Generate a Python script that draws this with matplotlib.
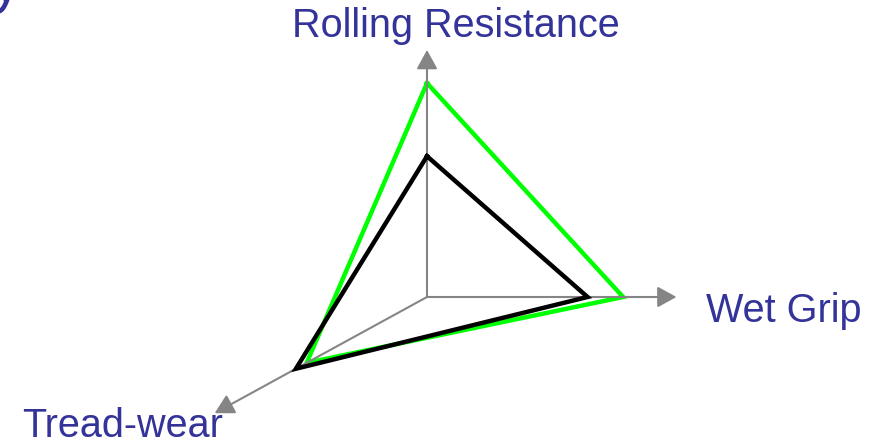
import numpy as np
import matplotlib
matplotlib.use("Agg")
import matplotlib.pyplot as plt

# ---- data ----
axis_names = ["Rolling Resistance", "Wet Grip", "Tread-wear"]
green_values = [8.66, 7.94, 5.55]
black_values = [5.7, 6.5, 6.05]
axis_max = [10.0, 10.1, 9.8]

# ---- layout ----
W, H = 877, 442
fig = plt.figure(figsize=(W / 100, H / 100), dpi=100)
ax = fig.add_axes([0, 0, 1, 1])
ax.set_xlim(0, W)
ax.set_ylim(H, 0)
ax.axis("off")

origin = np.array([427.0, 297.0])
scale = 24.7
diag = np.array([-212.0, 116.0])
diag /= np.linalg.norm(diag)
directions = [np.array([0.0, -1.0]), np.array([1.0, 0.0]), diag]

def vertices(vals):
    pts = [origin + v * scale * d for v, d in zip(vals, directions)]
    pts.append(pts[0])
    return np.array(pts)

text_color = "#333399"
gray = "#858585"
font = ["Liberation Sans", "DejaVu Sans"]
fs = 28.5

g = vertices(green_values)
ax.plot(g[:, 0], g[:, 1], color="#00ff00", lw=3.2, solid_joinstyle="miter", zorder=2)

for m, d in zip(axis_max, directions):
    tip = origin + m * scale * d
    ax.annotate("", xy=tip, xytext=origin,
                arrowprops=dict(arrowstyle="-|>,head_length=0.4,head_width=0.22",
                                color=gray, lw=1.5, mutation_scale=29,
                                shrinkA=0, shrinkB=0), zorder=3)

b = vertices(black_values)
ax.plot(b[:, 0], b[:, 1], color="black", lw=3.2, solid_joinstyle="miter", zorder=4)

ax.text(456, 37, axis_names[0], color=text_color, fontsize=fs, family=font,
        ha="center", va="baseline")
ax.text(706, 322, axis_names[1], color=text_color, fontsize=fs, family=font,
        ha="left", va="baseline")
ax.text(22, 437, axis_names[2], color=text_color, fontsize=fs, family=font,
        ha="left", va="baseline")

# cropped glyph of a title above the visible area
ax.text(-9, 1, "y", color=text_color, fontsize=44, family=font,
        ha="left", va="baseline")

fig.savefig("out.png", dpi=100)
